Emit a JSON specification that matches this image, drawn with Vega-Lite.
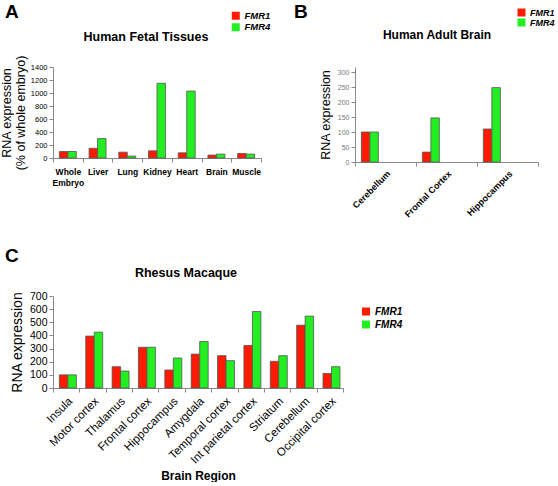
{
  "$schema": "https://vega.github.io/schema/vega-lite/v6.json",
  "padding": {"left": 0, "top": 3, "right": 0, "bottom": 0},
  "background": "white",
  "config": {
    "font": "Liberation Sans",
    "view": {"stroke": null},
    "axis": {"grid": false, "domainColor": "#888", "tickColor": "#888", "labelColor": "#000", "titleColor": "#000", "titleFontWeight": "normal", "tickSize": 4, "labelPadding": 2},
    "legend": {"orient": "none", "title": null, "symbolType": "square", "symbolSize": 64, "symbolStrokeWidth": 0, "labelFontStyle": "italic", "labelFontWeight": "bold", "labelColor": "#000", "labelFontSize": 10, "rowPadding": 3},
    "title": {"color": "#000", "baseline": "alphabetic"}
  },
  "datasets": {
    "fetal": [
      {"tissue": "Whole Embryo", "gene": "FMR1", "value": 100},
      {"tissue": "Whole Embryo", "gene": "FMR4", "value": 100},
      {"tissue": "Liver", "gene": "FMR1", "value": 150},
      {"tissue": "Liver", "gene": "FMR4", "value": 300},
      {"tissue": "Lung", "gene": "FMR1", "value": 90},
      {"tissue": "Lung", "gene": "FMR4", "value": 30},
      {"tissue": "Kidney", "gene": "FMR1", "value": 110},
      {"tissue": "Kidney", "gene": "FMR4", "value": 1150},
      {"tissue": "Heart", "gene": "FMR1", "value": 80},
      {"tissue": "Heart", "gene": "FMR4", "value": 1030},
      {"tissue": "Brain", "gene": "FMR1", "value": 45},
      {"tissue": "Brain", "gene": "FMR4", "value": 60},
      {"tissue": "Muscle", "gene": "FMR1", "value": 70},
      {"tissue": "Muscle", "gene": "FMR4", "value": 60}
    ],
    "adult": [
      {"region": "Cerebellum", "gene": "FMR1", "value": 100},
      {"region": "Cerebellum", "gene": "FMR4", "value": 100},
      {"region": "Frontal Cortex", "gene": "FMR1", "value": 33},
      {"region": "Frontal Cortex", "gene": "FMR4", "value": 147},
      {"region": "Hippocampus", "gene": "FMR1", "value": 110},
      {"region": "Hippocampus", "gene": "FMR4", "value": 248}
    ],
    "macaque": [
      {"region": "Insula", "gene": "FMR1", "value": 100},
      {"region": "Insula", "gene": "FMR4", "value": 100},
      {"region": "Motor cortex", "gene": "FMR1", "value": 395},
      {"region": "Motor cortex", "gene": "FMR4", "value": 425},
      {"region": "Thalamus", "gene": "FMR1", "value": 162},
      {"region": "Thalamus", "gene": "FMR4", "value": 129},
      {"region": "Frontal cortex", "gene": "FMR1", "value": 310},
      {"region": "Frontal cortex", "gene": "FMR4", "value": 310},
      {"region": "Hippocampus", "gene": "FMR1", "value": 137},
      {"region": "Hippocampus", "gene": "FMR4", "value": 228},
      {"region": "Amygdala", "gene": "FMR1", "value": 258},
      {"region": "Amygdala", "gene": "FMR4", "value": 354},
      {"region": "Temporal cortex", "gene": "FMR1", "value": 246},
      {"region": "Temporal cortex", "gene": "FMR4", "value": 208},
      {"region": "Int parietal cortex", "gene": "FMR1", "value": 324},
      {"region": "Int parietal cortex", "gene": "FMR4", "value": 582},
      {"region": "Striatum", "gene": "FMR1", "value": 203},
      {"region": "Striatum", "gene": "FMR4", "value": 246},
      {"region": "Cerebellum", "gene": "FMR1", "value": 478},
      {"region": "Cerebellum", "gene": "FMR4", "value": 547},
      {"region": "Occipital cortex", "gene": "FMR1", "value": 111},
      {"region": "Occipital cortex", "gene": "FMR4", "value": 162}
    ]
  },
  "resolve": {"scale": {"color": "independent"}, "legend": {"color": "independent"}},
  "spacing": 27,
  "vconcat": [
    {
      "resolve": {"scale": {"color": "independent"}, "legend": {"color": "independent"}},
      "spacing": 23,
      "hconcat": [
        {
          "title": {"text": "A", "anchor": "start", "frame": "group", "fontSize": 19, "fontWeight": "bold", "offset": -11, "dx": -48},
          "resolve": {"scale": {"color": "independent"}, "legend": {"color": "independent"}},
          "vconcat": [
            {
              "title": {"text": "Human Fetal Tissues", "frame": "group", "fontSize": 12.5, "fontWeight": "bold", "offset": -32, "dx": -11},
              "width": 208,
              "height": 91,
              "data": {"name": "fetal"},
              "mark": {"type": "bar", "stroke": "#555", "strokeWidth": 0.8},
              "encoding": {
                "x": {"field": "tissue", "type": "nominal", "sort": null, "scale": {"paddingInner": 0, "paddingOuter": 0},
                  "axis": {"title": null, "labelAngle": 0, "labelFontSize": 8.5, "labelFontWeight": "bold", "tickBand": "extent", "labelPadding": 5, "labelLineHeight": 11, "labelExpr": "datum.label == 'Whole Embryo' ? ['Whole', 'Embryo'] : datum.label"}},
                "xOffset": {"field": "gene", "type": "nominal", "scale": {"paddingInner": 0, "paddingOuter": 0.75}},
                "y": {"field": "value", "type": "quantitative", "scale": {"domain": [0, 1400], "nice": false},
                  "axis": {"values": [0, 200, 400, 600, 800, 1000, 1200, 1400], "format": "d", "labelFontSize": 7.5, "title": ["RNA expression", "(% of whole embryo)"], "titleFontSize": 12.5, "titleLineHeight": 13.5, "titlePadding": 3}},
                "color": {"field": "gene", "type": "nominal", "scale": {"domain": ["FMR1", "FMR4"], "range": ["#ff1a00", "#22ee22"]},
                  "legend": {"legendX": 178, "legendY": -56, "labelFontSize": 9.5, "rowPadding": 0.5}}
              }
            }
          ]
        },
        {
          "title": {"text": "B", "anchor": "start", "frame": "group", "fontSize": 19, "fontWeight": "bold", "offset": -14, "dx": -61},
          "resolve": {"scale": {"color": "independent"}, "legend": {"color": "independent"}},
          "vconcat": [
            {
              "title": {"text": "Human Adult Brain", "frame": "group", "fontSize": 12, "fontWeight": "bold", "offset": -33.5, "dx": -9.5},
              "width": 183,
              "height": 95,
              "data": {"name": "adult"},
              "mark": {"type": "bar", "stroke": "#555", "strokeWidth": 0.8},
              "encoding": {
                "x": {"field": "region", "type": "nominal", "sort": null, "scale": {"paddingInner": 0, "paddingOuter": 0},
                  "axis": {"title": null, "labelAngle": -45, "labelFontSize": 9, "labelFontWeight": "bold", "tickBand": "extent", "labelPadding": 3}},
                "xOffset": {"field": "gene", "type": "nominal", "scale": {"paddingInner": 0, "paddingOuter": 0.69}},
                "y": {"field": "value", "type": "quantitative", "scale": {"domain": [0, 316.67], "nice": false},
                  "axis": {"values": [0, 50, 100, 150, 200, 250, 300], "format": "d", "labelFontSize": 7, "labelColor": "#777", "title": "RNA expression", "titleFontSize": 12.5, "titlePadding": 5}},
                "color": {"field": "gene", "type": "nominal", "scale": {"domain": ["FMR1", "FMR4"], "range": ["#ff1a00", "#22ee22"]},
                  "legend": {"legendX": 162, "legendY": -59, "labelFontSize": 9, "rowPadding": 0}}
              }
            }
          ]
        }
      ]
    },
    {
      "title": {"text": "C", "anchor": "start", "frame": "group", "fontSize": 19, "fontWeight": "bold", "offset": 1, "dx": -48},
      "resolve": {"scale": {"color": "independent"}, "legend": {"color": "independent"}},
      "vconcat": [
        {
          "title": {"text": "Rhesus Macaque", "frame": "group", "fontSize": 12.5, "fontWeight": "bold", "offset": 12, "dx": -12},
          "width": 290,
          "height": 92,
          "data": {"name": "macaque"},
          "mark": {"type": "bar", "stroke": "#555", "strokeWidth": 0.8},
          "encoding": {
            "x": {"field": "region", "type": "nominal", "sort": null, "scale": {"paddingInner": 0, "paddingOuter": 0},
              "axis": {"title": "Brain Region", "titleFontSize": 12, "titleFontWeight": "bold", "titlePadding": 5, "labelAngle": -45, "labelFontSize": 11.5, "tickBand": "extent", "labelPadding": 3}},
            "xOffset": {"field": "gene", "type": "nominal", "scale": {"paddingInner": 0, "paddingOuter": 0.78}},
            "y": {"field": "value", "type": "quantitative", "scale": {"domain": [0, 700], "nice": false},
              "axis": {"values": [0, 100, 200, 300, 400, 500, 600, 700], "format": "d", "labelFontSize": 10.5, "title": "RNA expression", "titleFontSize": 14, "titlePadding": 5}},
            "color": {"field": "gene", "type": "nominal", "scale": {"domain": ["FMR1", "FMR4"], "range": ["#ff1a00", "#22ee22"]},
              "legend": {"legendX": 308, "legendY": 10.5, "labelFontSize": 10, "rowPadding": 3}}
          }
        }
      ]
    }
  ]
}
